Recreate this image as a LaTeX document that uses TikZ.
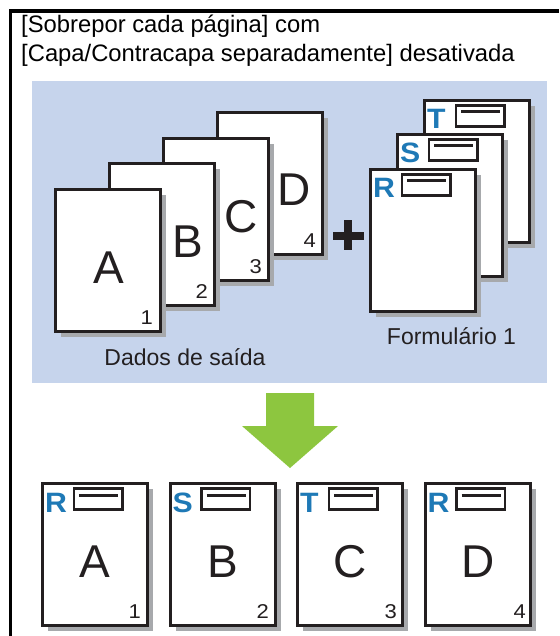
\documentclass[tikz,border=0pt]{standalone}
\usepackage{fontspec}
\setmainfont{Liberation Sans}
\usetikzlibrary{shadows}
\definecolor{panelc}{RGB}{198,212,236}
\definecolor{shadowc}{RGB}{167,169,172}
\definecolor{inkc}{RGB}{35,31,32}
\definecolor{letterc}{RGB}{30,121,182}
\definecolor{arrowc}{RGB}{141,198,63}
\tikzset{
  sheet/.style={draw=inkc, line width=3pt, fill=white, minimum width=105pt, minimum height=142pt,
    inner sep=0pt, anchor=north west,
    drop shadow={shadow xshift=5.5pt, shadow yshift=-5.5pt, fill=shadowc, opacity=1}},
  bigletter/.style={font=\fontsize{46}{46}\selectfont, anchor=base, inner sep=0pt, text=inkc},
  pagenum/.style={font=\fontsize{20}{20}\selectfont, anchor=base east, inner sep=0pt, text=inkc, xscale=1.1},
  formletter/.style={font=\bfseries\fontsize{28}{28}\selectfont, anchor=base west, inner sep=0pt, text=letterc, xscale=1.08},
  captiontext/.style={font=\fontsize{23}{23}\selectfont, anchor=base, inner sep=0pt, text=inkc},
  titletext/.style={font=\fontsize{23.8}{23.8}\selectfont, anchor=base west, inner sep=0pt, text=black},
  fieldbox/.style={draw=inkc, line width=2.8pt},
  fieldline/.style={draw=inkc, line width=3pt},
}
% #1 name, #2 left, #3 top, #4 letter
\newcommand\formhead[4]{%
  \node[formletter] (#1) at (#2+4,#3+30) {#4};
  \draw[fieldbox] (#2+33,#3+6.5) rectangle (#2+81.5,#3+27.5);
  \draw[fieldline] (#2+38,#3+13) -- (#2+77,#3+13);}
\begin{document}
\begin{tikzpicture}[x=1pt,y=-1pt]
\useasboundingbox (0,0) rectangle (559,636);
% frame
\draw[line width=3.5pt, black] (10.5,636) -- (10.5,11.2) -- (559,11.2);
% title
\node[titletext] (t1) at (21,33) {[Sobrepor cada página] com};
\node[titletext] (t2) at (21,62) {[Capa/Contracapa separadamente] desativada};
% panel
\fill[panelc] (32,81) rectangle (547,383);
% output data pages
\node[sheet] (pD) at (216,111) {};
\node[bigletter] (lD) at (294,206) {D};
\node[pagenum] (nD) at (316,247) {4};
\node[sheet] (pC) at (162,137) {};
\node[bigletter] (lC) at (241,232) {C};
\node[pagenum] (nC) at (262,273) {3};
\node[sheet] (pB) at (108,162) {};
\node[bigletter] (lB) at (188,257) {B};
\node[pagenum] (nB) at (208,298) {2};
\node[sheet] (pA) at (54,188) {};
\node[bigletter] (lA) at (108.5,283) {A};
\node[pagenum] (nA) at (153,324) {1};
\node[captiontext] (cap1) at (185,365) {Dados de saída};
% plus
\draw[inkc, line width=8pt] (333,235.5) -- (364,235.5);
\draw[inkc, line width=8pt] (348,220) -- (348,250);
% form pages
\node[sheet] (fT) at (423,99) {};
\formhead{fTl}{423}{99}{T}
\node[sheet] (fS) at (396,133) {};
\formhead{fSl}{396}{133}{S}
\node[sheet] (fR) at (369,168) {};
\formhead{fRl}{369}{168}{R}
\node[captiontext] (cap2) at (451.5,344) {Formulário 1};
% arrow
\fill[arrowc] (266,393) -- (314,393) -- (314,426) -- (338,426) -- (290,468) -- (242,426) -- (266,426) -- cycle;
% result pages
\node[sheet] (r1) at (41,482) {};
\formhead{r1l}{41}{482}{R}
\node[bigletter] (r1c) at (94.5,577) {A};
\node[pagenum] (r1n) at (141,618) {1};
\node[sheet] (r2) at (168.5,482) {};
\formhead{r2l}{168.5}{482}{S}
\node[bigletter] (r2c) at (222.5,577) {B};
\node[pagenum] (r2n) at (269,618) {2};
\node[sheet] (r3) at (296,482) {};
\formhead{r3l}{296}{482}{T}
\node[bigletter] (r3c) at (350,577) {C};
\node[pagenum] (r3n) at (397,618) {3};
\node[sheet] (r4) at (423.5,482) {};
\formhead{r4l}{423.5}{482}{R}
\node[bigletter] (r4c) at (478,577) {D};
\node[pagenum] (r4n) at (526,618) {4};
\end{tikzpicture}
\end{document}
